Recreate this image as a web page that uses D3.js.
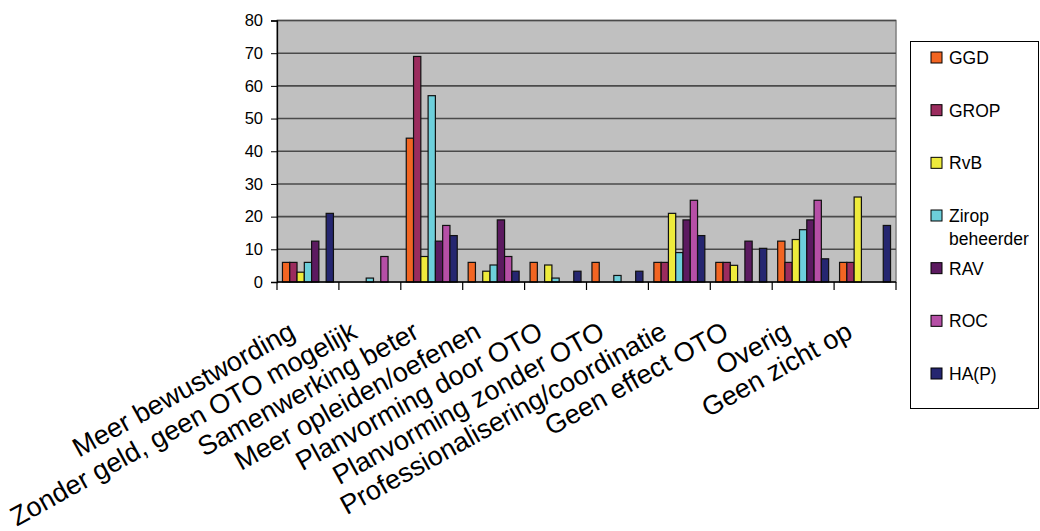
<!DOCTYPE html>
<html>
<head>
<meta charset="utf-8">
<script src="https://cdn.jsdelivr.net/npm/d3@7"></script>
<style>
  html, body { margin: 0; padding: 0; background: #fff; }
  svg { display: block; font-family: "Liberation Sans", Arial, sans-serif; }
</style>
</head>
<body>
<svg id="chart" width="1040" height="531"></svg>
<script>
const categories = [
  "Meer bewustwording",
  "Zonder geld, geen OTO mogelijk",
  "Samenwerking beter",
  "Meer opleiden/oefenen",
  "Planvorming door OTO",
  "Planvorming zonder OTO",
  "Professionalisering/coordinatie",
  "Geen effect OTO",
  "Overig",
  "Geen zicht op"
];
const seriesNames = ["GGD", "GROP", "RvB", "Zirop beheerder", "RAV", "ROC", "HA(P)"];
const GGD   = [6,    0,   44,   6,   6,   6,   6,    6,    12.5, 6];
const GROP  = [6,    0,   69,   0,   0,   0,   6,    6,    6,    6];
const RvB   = [3,    0,   7.8,  3.3, 5.2, 0,   21,   5.1,  13,   26];
const Zirop = [6,    1.2, 57,   5.2, 1.2, 2,   9,    0,    16,   0];
const RAV   = [12.5, 0,   12.5, 19,  0,   0,   19,   12.5, 19,   0];
const ROC   = [0,    7.8, 17.3, 7.8, 0,   0,   25,   0,    25,   0];
const HAP   = [21,   0,   14.2, 3.3, 3.3, 3.3, 14.2, 10.3, 7.1,  17.3];
const seriesValues = [GGD, GROP, RvB, Zirop, RAV, ROC, HAP];
const yTicks = [0, 10, 20, 30, 40, 50, 60, 70, 80];
const colors = ["#F26522", "#9B2C5E", "#EEEB3C", "#6DCFDB", "#5C1A60", "#B64FA6", "#252670"];

const svg = d3.select("#chart");
const plot = { left: 277, right: 896, top: 20.5, bottom: 282 };

const x = d3.scaleBand().domain(categories).range([plot.left, plot.right]).paddingInner(0).paddingOuter(0);
const xs = d3.scaleBand().domain(seriesNames).range([0, x.bandwidth()]).paddingInner(0).paddingOuter(0.75);
const y = d3.scaleLinear().domain([0, 80]).range([plot.bottom, plot.top]);

// plot area
svg.append("rect")
  .attr("x", plot.left).attr("y", plot.top)
  .attr("width", plot.right - plot.left).attr("height", plot.bottom - plot.top)
  .attr("fill", "#C0C0C0").attr("stroke", "#808080").attr("stroke-width", 1.5);

// gridlines
svg.append("g").selectAll("line").data(yTicks.filter(t => t > 0)).join("line")
  .attr("x1", plot.left).attr("x2", plot.right)
  .attr("y1", d => y(d)).attr("y2", d => y(d))
  .attr("stroke", "#4a4a4a").attr("stroke-width", 1.6);

// bars
const groups = svg.append("g").selectAll("g").data(seriesNames).join("g")
  .attr("fill", (d, i) => colors[i]);
groups.each(function(name, si) {
  const data = seriesValues[si].map((v, ci) => ({ v, c: categories[ci] })).filter(d => d.v > 0);
  d3.select(this).selectAll("rect").data(data).join("rect")
    .attr("x", d => x(d.c) + xs(name))
    .attr("width", xs.bandwidth())
    .attr("y", d => y(d.v))
    .attr("height", d => y(0) - y(d.v))
    .attr("stroke", "#111").attr("stroke-width", 1.2);
});

// y axis
const yAxis = svg.append("g").attr("transform", `translate(${plot.left},0)`)
  .call(d3.axisLeft(y).tickValues(yTicks).tickSize(6).tickPadding(8));
yAxis.select(".domain").attr("stroke", "#000").attr("stroke-width", 1.3);
yAxis.selectAll(".tick line").attr("stroke", "#000");
yAxis.selectAll(".tick text").attr("font-size", 16.5).attr("fill", "#000")
  .attr("font-family", "Liberation Sans, Arial, sans-serif");

// x axis line and ticks between categories
svg.append("line").attr("x1", plot.left).attr("x2", plot.right)
  .attr("y1", plot.bottom).attr("y2", plot.bottom)
  .attr("stroke", "#000").attr("stroke-width", 1.3);
const boundaries = categories.map(c => x(c)).concat([x(categories[categories.length - 1]) + x.bandwidth()]);
svg.append("g").selectAll("line").data(boundaries).join("line")
  .attr("x1", d => d).attr("x2", d => d)
  .attr("y1", plot.bottom).attr("y2", plot.bottom + 8)
  .attr("stroke", "#000").attr("stroke-width", 1.2);

// category labels
svg.append("g").selectAll("text").data(categories).join("text")
  .attr("transform", d => `translate(${x(d) + x.bandwidth() / 2 - 11},337) rotate(-29)`)
  .attr("text-anchor", "end")
  .attr("font-size", 27)
  .attr("fill", "#000")
  .text(d => d);

// legend
const lg = svg.append("g");
lg.append("rect").attr("x", 910.5).attr("y", 41.5).attr("width", 128).attr("height", 367)
  .attr("fill", "#fff").attr("stroke", "#000").attr("stroke-width", 1);
const legendY = d3.scalePoint().domain(seriesNames).range([57.5, 373.5]);
const items = lg.selectAll("g").data(seriesNames).join("g")
  .attr("transform", d => `translate(931,${legendY(d)})`);
items.append("rect").attr("x", 0).attr("y", -5.5).attr("width", 11).attr("height", 11)
  .attr("fill", (d, i) => colors[i]).attr("stroke", "#000").attr("stroke-width", 1);
items.append("text").attr("x", 18).attr("y", 6.5).attr("font-size", 17.5).attr("fill", "#000")
  .each(function(d) {
    const parts = d.split(" ");
    const t = d3.select(this);
    parts.forEach((p, i) => {
      t.append("tspan").attr("x", 18).attr("dy", i === 0 ? 0 : 22.5).text(p);
    });
  });
</script>
</body>
</html>
